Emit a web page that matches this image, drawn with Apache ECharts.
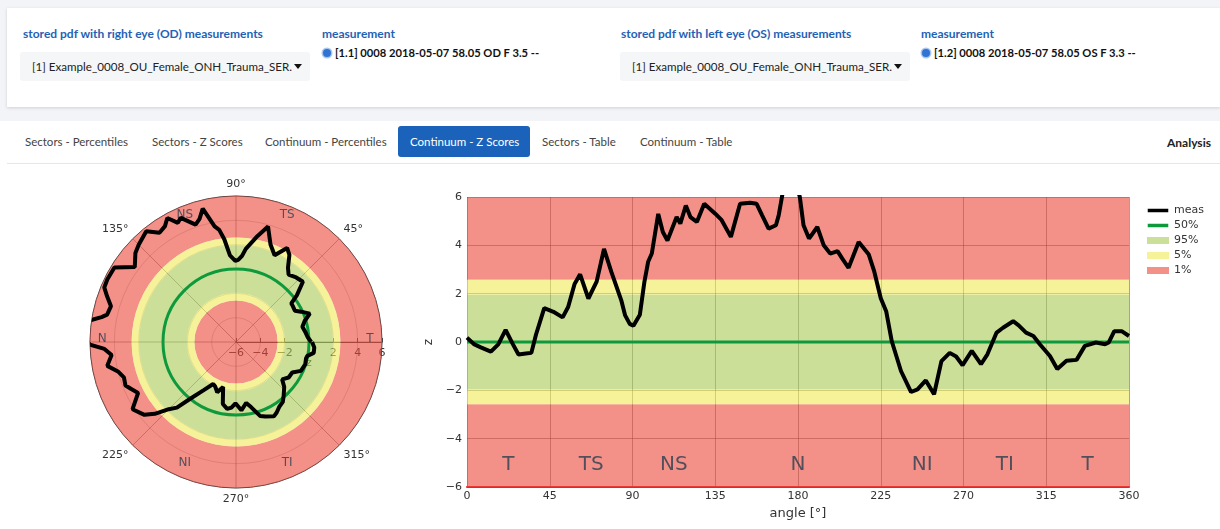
<!DOCTYPE html>
<html>
<head>
<meta charset="utf-8">
<script src="https://cdn.jsdelivr.net/npm/echarts@6/dist/echarts.min.js"></script>
<style>
  html, body { margin: 0; padding: 0; width: 1220px; height: 529px; overflow: hidden; background: #fff; }
  body { font-family: Lato, sans-serif; position: relative; }
  .strip { position: absolute; left: 0; width: 1220px; background: #f2f4f7; }
  .panel { position: absolute; left: 7px; top: 8px; width: 1213px; height: 99px; background: #fff;
           box-shadow: 0 1px 3px rgba(0,0,0,0.15); }
  .lbl { position: absolute; top: 26px; font-weight: bold; font-size: 12px; color: #1f62b5; white-space: nowrap; }
  .dd { position: absolute; top: 52px; height: 29px; width: 290px; background: #f5f6f8; border-radius: 3px; }
  .dd span { position: absolute; left: 12px; top: 8px; font-size: 11.6px; color: #222; white-space: nowrap; }
  .dd i { position: absolute; right: 8px; top: 12px; width: 0; height: 0; border-left: 4px solid transparent;
          border-right: 4px solid transparent; border-top: 5px solid #111; }
  .radio { position: absolute; top: 49px; width: 8px; height: 8px; border-radius: 50%; background: #2f73d4;
           box-shadow: 0 0 0 1.5px #a9c6ef; }
  .meas { position: absolute; top: 46px; font-weight: bold; font-size: 11.2px; color: #111; white-space: nowrap; }
  .tabs { position: absolute; left: 7px; top: 121px; width: 1213px; height: 42px; background: #fff;
          border-bottom: 1px solid #e4e6ea; }
  .tab { position: absolute; top: 135px; font-size: 11.5px; color: #444; white-space: nowrap; }
  .active { position: absolute; left: 398px; top: 126px; width: 132px; height: 31px; background: #1b63ba;
            border-radius: 3px; }
  #chart { position: absolute; left: 0; top: 165px; width: 1220px; height: 364px; }
</style>
</head>
<body>
<div class="strip" style="top:0;height:121px"></div>
<div class="panel"></div>
<div class="lbl" style="left:23px">stored pdf with right eye (OD) measurements</div>
<div class="dd" style="left:20px"><span>[1] Example_0008_OU_Female_ONH_Trauma_SER.</span><i></i></div>
<div class="lbl" style="left:322px">measurement</div>
<div class="radio" style="left:323px"></div>
<div class="meas" style="left:335px">[1.1] 0008 2018-05-07 58.05 OD F 3.5 --</div>
<div class="lbl" style="left:621px">stored pdf with left eye (OS) measurements</div>
<div class="dd" style="left:620px"><span>[1] Example_0008_OU_Female_ONH_Trauma_SER.</span><i></i></div>
<div class="lbl" style="left:921px">measurement</div>
<div class="radio" style="left:922px"></div>
<div class="meas" style="left:934px">[1.2] 0008 2018-05-07 58.05 OS F 3.3 --</div>

<div class="tabs"></div>
<div class="active"></div>
<div class="tab" style="left:25px">Sectors - Percentiles</div>
<div class="tab" style="left:152px">Sectors - Z Scores</div>
<div class="tab" style="left:265px">Continuum - Percentiles</div>
<div class="tab" style="left:410px;color:#fff">Continuum - Z Scores</div>
<div class="tab" style="left:542px">Sectors - Table</div>
<div class="tab" style="left:640px">Continuum - Table</div>
<div class="tab" style="left:1167px;font-weight:bold;color:#222;font-size:12px">Analysis</div>

<div id="chart"></div>
<script>
// measured z scores along the scan circle
const angleDeg = [0, 4, 7.5, 13, 17, 21, 25, 28, 32, 35, 37.5, 42, 47, 52, 55, 58.5, 61.5, 66, 70.5, 74.5,
  78.5, 84, 86, 88.5, 90.5, 94, 96.5, 98.5, 100.5, 104, 106.5, 109, 114, 116, 119, 121.5, 125, 129, 135, 138.5,
  143.5, 148.5, 154, 157.5, 160.5, 164, 168, 169.5, 171.5, 173, 178, 181, 183, 186, 190.5, 194, 197.5, 201.5, 204, 207.5,
  213, 218.5, 221.5, 225, 228, 231, 236, 241.5, 245, 249.5, 254, 258, 262.5, 266, 269.5, 274.5, 279.5, 283, 288, 291.5,
  297, 300, 304, 308, 311.5, 317, 321, 326, 331.5, 336, 342, 347, 349, 352, 356, 360];
const zMeas = [0.18, -0.1, -0.22, -0.4, -0.1, 0.5, -0.1, -0.52, -0.48, -0.45, 0.3, 1.4, 1.25, 1.02, 1.45, 2.4, 2.8, 1.8, 2.5, 3.85,
  2.9, 1.7, 1.1, 0.75, 0.67, 1.13, 2.5, 3.32, 3.66, 5.3, 4.55, 4.2, 5.17, 4.9, 5.65, 5.17, 4.97, 5.72, 5.31, 5.04,
  4.35, 5.72, 5.76, 5.72, 5.24, 4.69, 4.83, 5.24, 6.1, 6.6, 6.8, 6.0, 4.83, 4.28, 4.76, 4.0, 3.66, 3.76, 3.46, 3.07,
  4.14, 3.62, 2.91, 1.81, 1.26, 0.03, -1.2, -2.07, -1.96, -1.59, -2.16, -0.79, -0.45, -0.6, -0.96, -0.37, -0.92, -0.51, 0.39, 0.59,
  0.86, 0.69, 0.39, 0.25, -0.09, -0.58, -1.12, -0.78, -0.74, -0.16, -0.02, -0.09, -0.02, 0.45, 0.45, 0.25];

const zLimits = [-6, 6];
const pct50 = 0;
const band95 = [-1.96, 1.96];
const band99 = [-2.58, 2.58];

const sectorNames = ['T', 'TS', 'NS', 'N', 'NI', 'TI', 'T'];
const sectorMid = [22.5, 67.5, 112.5, 180, 247.5, 292.5, 337.5];
const polarSectorNames = ['T', 'TS', 'NS', 'N', 'NI', 'TI'];
const polarSectorAngles = [0, 67.5, 112.5, 180, 247.5, 292.5];
const polarLabelRadius = 5;
const sectorLabelZ = -5.1;

const RED = 'rgba(235,72,58,0.6)';
const YELLOW = 'rgba(240,233,87,0.6)';
const GREEN = 'rgba(168,202,83,0.6)';
const GREEN_LINE = '#0e9a3c';
const TXT = '#2b3e4f';
// thin bar icon for line entries in the legend (tiny corner marks keep the box size)
const LINE_ICON = 'path://M0,0h0.01v0.01h-0.01zM0,2h22v3.5h-22zM21.99,7.49h0.01v0.01h-0.01z';

const redBands = [[zLimits[0], band99[0]], [band99[1], zLimits[1]]];
const yellowBands = [[band99[0], band95[0]], [band95[1], band99[1]]];
const greenBands = [[band95[0], band95[1]]];

function cartBand(params, api) {
  const cs = params.coordSys;
  const top = api.coord([0, api.value(1)])[1];
  const bot = api.coord([0, api.value(0)])[1];
  return { type: 'rect', shape: { x: cs.x, y: top, width: cs.width, height: bot - top },
           style: { fill: api.visual('color') } };
}
function polarRadius(params, api, v) {
  const cs = params.coordSys;
  const p = api.coord([v, 0]);
  return Math.hypot(p[0] - cs.cx, p[1] - cs.cy);
}
function polarBand(params, api) {
  const cs = params.coordSys;
  return { type: 'ring', shape: { cx: cs.cx, cy: cs.cy,
           r0: polarRadius(params, api, api.value(0)), r: polarRadius(params, api, api.value(1)) },
           style: { fill: api.visual('color') } };
}
function polarCircle(params, api) {
  const cs = params.coordSys;
  return { type: 'circle', shape: { cx: cs.cx, cy: cs.cy, r: polarRadius(params, api, api.value(0)) },
           style: { fill: 'none', stroke: GREEN_LINE, lineWidth: 3 } };
}

const chart = echarts.init(document.getElementById('chart'));
chart.setOption({
  animation: false,
  textStyle: { fontFamily: 'DejaVu Sans, sans-serif' },
  legend: {
    orient: 'vertical', left: 1142, top: 35, itemWidth: 22, itemHeight: 7, itemGap: 4,
    textStyle: { fontSize: 11, color: '#333' },
    data: [
      { name: 'meas', icon: LINE_ICON },
      { name: '50%', icon: LINE_ICON },
      { name: '95%', icon: 'rect' },
      { name: '5%', icon: 'rect' },
      { name: '1%', icon: 'rect' }
    ]
  },
  polar: { center: [236, 177], radius: 146 },
  angleAxis: {
    type: 'value', min: 0, max: 360, interval: 45, startAngle: 0, clockwise: false,
    axisLine: { lineStyle: { color: '#444', width: 1 } },
    axisTick: { show: false },
    axisLabel: { color: '#333', fontSize: 11, margin: 6,
                 formatter: v => (v % 180 === 0 ? '' : v + '°') },
    splitLine: { show: true, lineStyle: { color: 'rgba(40,40,40,0.55)', width: 0.8 } }
  },
  radiusAxis: {
    type: 'value', min: zLimits[0], max: zLimits[1], interval: 2,
    axisLine: { show: true, lineStyle: { color: '#444', width: 1 } },
    axisTick: { show: true, length: 4, lineStyle: { color: '#444' } },
    axisLabel: { color: '#333', fontSize: 11, margin: -6, verticalAlign: 'top',
                 formatter: v => (v === 0 ? '{z|z}' : String(v).replace('-', '\u2212')),
                 rich: { z: { fontSize: 11, color: '#333', padding: [10, 0, 0, 0] } } },
    splitLine: { show: true, lineStyle: { color: 'rgba(60,60,60,0.3)', width: 0.8 } }
  },
  grid: { left: 467, right: 91, top: 32, bottom: 42 },
  xAxis: {
    type: 'value', min: 0, max: 360, interval: 45,
    name: 'angle [°]', nameLocation: 'middle', nameGap: 20,
    nameTextStyle: { fontSize: 13, color: '#333' },
    axisLine: { onZero: false, lineStyle: { color: '#e8232b', width: 2 } },
    axisTick: { show: false },
    axisLabel: { color: '#333', fontSize: 11, margin: 4 },
    splitLine: { show: true, lineStyle: { color: 'rgba(50,50,50,0.45)', width: 1 } }
  },
  yAxis: {
    type: 'value', min: zLimits[0], max: zLimits[1], interval: 2,
    name: 'z', nameLocation: 'middle', nameGap: 23,
    nameTextStyle: { fontSize: 12, color: '#333' },
    axisLine: { show: false }, axisTick: { show: false },
    axisLabel: { color: '#333', fontSize: 11, margin: 5, formatter: v => String(v).replace('-', '\u2212') },
    splitLine: { show: true, lineStyle: { color: 'rgba(50,50,50,0.45)', width: 1 } }
  },
  series: [
    // polar plot
    { type: 'custom', coordinateSystem: 'polar', silent: true, itemStyle: { color: RED },
      renderItem: polarBand, data: redBands, z: 1 },
    { type: 'custom', coordinateSystem: 'polar', silent: true, itemStyle: { color: YELLOW },
      renderItem: polarBand, data: yellowBands, z: 1 },
    { type: 'custom', coordinateSystem: 'polar', silent: true, itemStyle: { color: GREEN },
      renderItem: polarBand, data: greenBands, z: 1 },
    { type: 'custom', coordinateSystem: 'polar', silent: true,
      renderItem: polarCircle, data: [[pct50, 0]], z: 2 },
    { type: 'scatter', coordinateSystem: 'polar', symbolSize: 0, silent: true, z: 3,
      data: polarSectorNames.map((n, i) => ({ name: n, value: [polarLabelRadius, polarSectorAngles[i]] })),
      label: { show: true, position: 'inside', formatter: p => p.name, color: TXT, fontSize: 12,
               offset: [0, -3] } },
    { type: 'line', coordinateSystem: 'polar', symbol: 'none', clip: true, z: 4,
      lineStyle: { color: '#000', width: 4 },
      data: angleDeg.map((a, i) => [zMeas[i], a]) },

    // cartesian plot
    { name: '1%', type: 'custom', silent: true, itemStyle: { color: RED }, renderItem: cartBand, data: redBands, z: 1 },
    { name: '5%', type: 'custom', silent: true, itemStyle: { color: YELLOW }, renderItem: cartBand, data: yellowBands, z: 1 },
    { name: '95%', type: 'custom', silent: true, itemStyle: { color: GREEN }, renderItem: cartBand, data: greenBands, z: 1 },
    { name: '50%', type: 'line', symbol: 'none', z: 2, lineStyle: { color: GREEN_LINE, width: 3 },
      itemStyle: { color: GREEN_LINE },
      data: [[0, pct50], [360, pct50]] },
    { type: 'scatter', symbolSize: 0, silent: true, z: 3,
      data: sectorNames.map((n, i) => ({ name: n, value: [sectorMid[i], sectorLabelZ] })),
      label: { show: true, position: 'inside', formatter: p => p.name, color: TXT, fontSize: 20 } },
    { name: 'meas', type: 'line', symbol: 'none', clip: true, z: 4,
      lineStyle: { color: '#000', width: 4 }, itemStyle: { color: '#000' },
      data: angleDeg.map((a, i) => [a, zMeas[i]]) }
  ]
});
</script>
</body>
</html>
